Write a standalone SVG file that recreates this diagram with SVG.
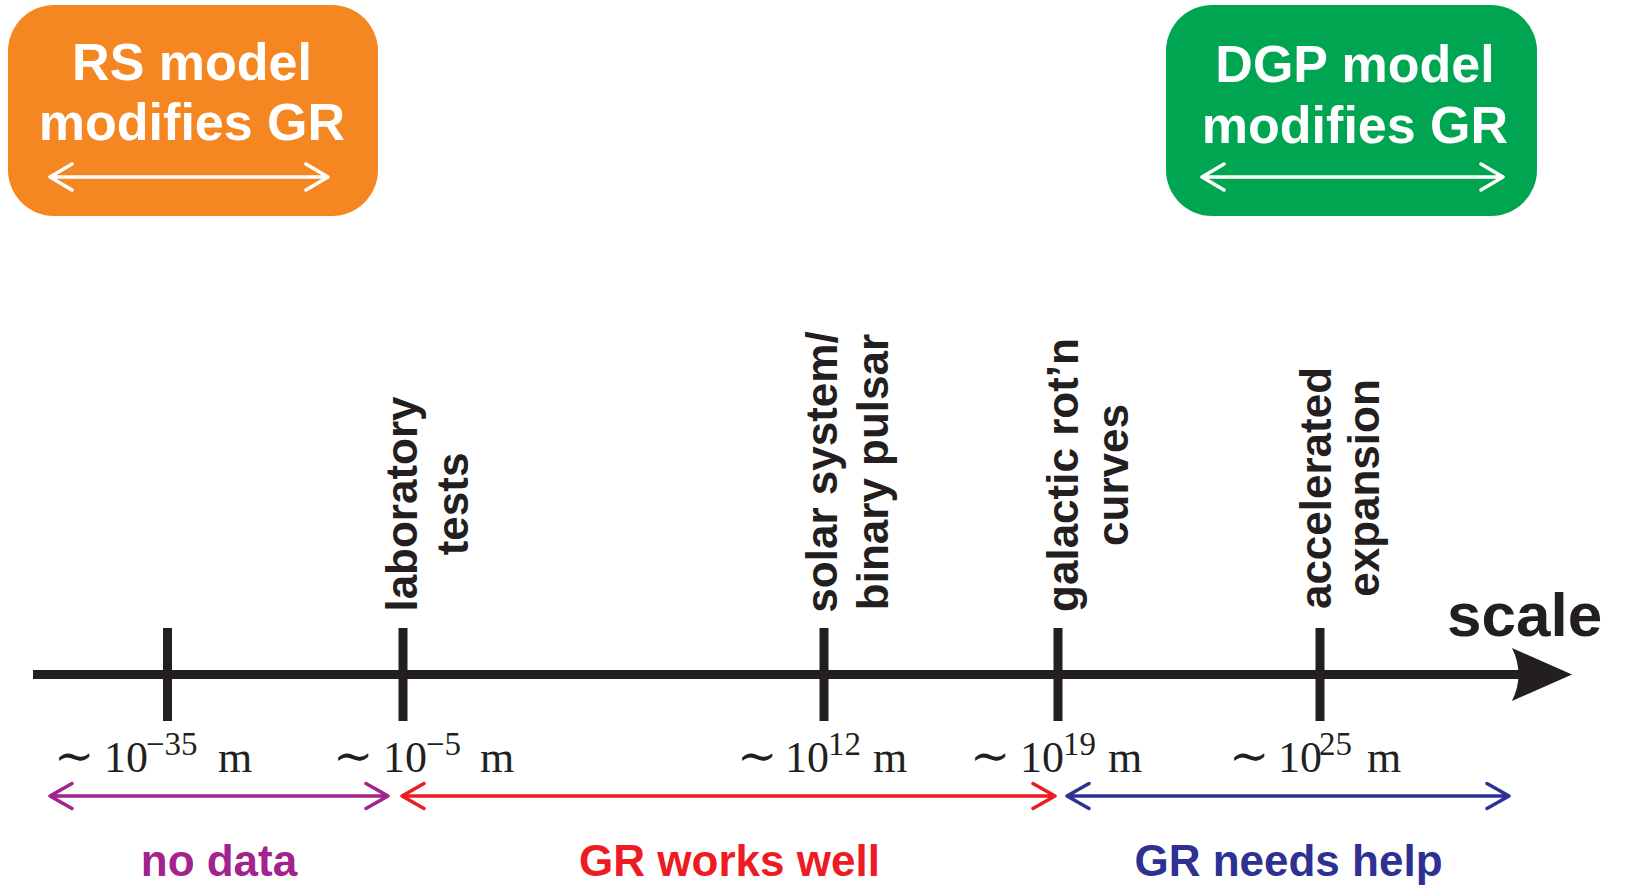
<svg xmlns="http://www.w3.org/2000/svg" width="1627" height="885" viewBox="0 0 1627 885">
  <style>
    .box-title { font-family: "Liberation Sans", Arial, sans-serif; font-weight: bold; font-size: 52px; fill: #ffffff; text-anchor: middle; }
    .probe { font-family: "Liberation Sans", Arial, sans-serif; font-weight: bold; font-size: 44px; fill: #231f20; text-anchor: middle; }
    .scale-lbl { font-family: "Liberation Sans", Arial, sans-serif; font-weight: bold; font-size: 62px; fill: #231f20; }
    .regime { font-family: "Liberation Sans", Arial, sans-serif; font-weight: bold; font-size: 44px; text-anchor: middle; }
    .mag { font-family: "Liberation Serif", "Times New Roman", serif; font-size: 44px; fill: #231f20; }
    .mag .sim { font-family: "DejaVu Serif", "Liberation Serif", serif; font-size: 48px; }
    .mag .sup { font-size: 33px; }
    .axis { stroke: #231f20; stroke-width: 9; fill: none; }
    .tick { stroke: #231f20; stroke-width: 9; }
    .span { fill: none; stroke-width: 3.5; stroke-linecap: round; stroke-linejoin: round; }
    .white { stroke: #ffffff; }
    .purple { stroke: #a2228e; }
    .red { stroke: #ed1c24; }
    .blue { stroke: #2e3192; }
  </style>

  <rect width="1627" height="885" fill="#ffffff"/>

  <!-- model boxes -->
  <g id="rs-model">
    <rect x="8" y="5" width="370" height="211" rx="46" ry="46" fill="#f58723"/>
    <text class="box-title" x="192" y="80">RS model</text>
    <text class="box-title" x="192" y="140">modifies GR</text>
    <path class="span white" d="M50,177 H328 M72,164 L50,177 L72,190 M306,164 L328,177 L306,190"/>
  </g>

  <g id="dgp-model">
    <rect x="1166" y="5" width="371" height="211" rx="46" ry="46" fill="#00a551"/>
    <text class="box-title" x="1355" y="82">DGP model</text>
    <text class="box-title" x="1355" y="143">modifies GR</text>
    <path class="span white" d="M1202,177 H1503 M1224,164 L1202,177 L1224,190 M1481,164 L1503,177 L1481,190"/>
  </g>

  <!-- scale axis with ticks -->
  <g id="axis">
    <line class="axis" x1="33" y1="674.5" x2="1522" y2="674.5"/>
    <path d="M1572,674.5 L1512,648 Q1525,674.5 1512,701 Z" fill="#231f20"/>
    <line class="tick" x1="167.5" y1="628" x2="167.5" y2="721"/>
    <line class="tick" x1="403" y1="628" x2="403" y2="721"/>
    <line class="tick" x1="824" y1="628" x2="824" y2="721"/>
    <line class="tick" x1="1058" y1="628" x2="1058" y2="721"/>
    <line class="tick" x1="1320" y1="628" x2="1320" y2="721"/>
    <text class="scale-lbl" x="1447" y="636">scale</text>
  </g>

  <!-- observational probes -->
  <g id="probe-lab">
    <text class="probe" transform="rotate(-90 417 504)" x="417" y="504">laboratory</text>
    <text class="probe" transform="rotate(-90 468 504)" x="468" y="504">tests</text>
  </g>
  <g id="probe-solar">
    <text class="probe" transform="rotate(-90 837 472)" x="837" y="472">solar system/</text>
    <text class="probe" transform="rotate(-90 888 472)" x="888" y="472">binary pulsar</text>
  </g>
  <g id="probe-galactic">
    <text class="probe" transform="rotate(-90 1078 475)" x="1078" y="475">galactic rot’n</text>
    <text class="probe" transform="rotate(-90 1128 475)" x="1128" y="475">curves</text>
  </g>
  <g id="probe-cosmic">
    <text class="probe" transform="rotate(-90 1331 488)" x="1331" y="488">accelerated</text>
    <text class="probe" transform="rotate(-90 1379 488)" x="1379" y="488">expansion</text>
  </g>

  <!-- length scales -->
  <g id="scale-labels">
    <text class="mag" y="772"><tspan class="sim" x="54">∼</tspan><tspan x="104">10</tspan><tspan class="sup" x="146" y="755">−35</tspan><tspan x="218" y="772">m</tspan></text>
    <text class="mag" y="772"><tspan class="sim" x="333">∼</tspan><tspan x="383">10</tspan><tspan class="sup" x="426" y="755">−5</tspan><tspan x="480" y="772">m</tspan></text>
    <text class="mag" y="772"><tspan class="sim" x="737">∼</tspan><tspan x="785">10</tspan><tspan class="sup" x="828" y="755">12</tspan><tspan x="873" y="772">m</tspan></text>
    <text class="mag" y="772"><tspan class="sim" x="970">∼</tspan><tspan x="1020">10</tspan><tspan class="sup" x="1063" y="755">19</tspan><tspan x="1108" y="772">m</tspan></text>
    <text class="mag" y="772"><tspan class="sim" x="1229">∼</tspan><tspan x="1278">10</tspan><tspan class="sup" x="1319" y="755">25</tspan><tspan x="1367" y="772">m</tspan></text>
  </g>

  <!-- regime spans -->
  <g id="connectors">
    <path class="span purple" d="M50,796 H388 M72,783.5 L50,796 L72,808.5 M366,783.5 L388,796 L366,808.5"/>
    <path class="span red" d="M402,796 H1055 M424,783.5 L402,796 L424,808.5 M1033,783.5 L1055,796 L1033,808.5"/>
    <path class="span blue" d="M1067,796 H1509 M1089,783.5 L1067,796 L1089,808.5 M1487,783.5 L1509,796 L1487,808.5"/>
  </g>

  <g id="regime-no-data">
    <text class="regime" x="219" y="876" fill="#a2228e">no data</text>
  </g>
  <g id="regime-gr-works">
    <text class="regime" x="729.5" y="876" fill="#ed1c24">GR works well</text>
  </g>
  <g id="regime-gr-help">
    <text class="regime" x="1288.5" y="876" fill="#2e3192">GR needs help</text>
  </g>
</svg>
